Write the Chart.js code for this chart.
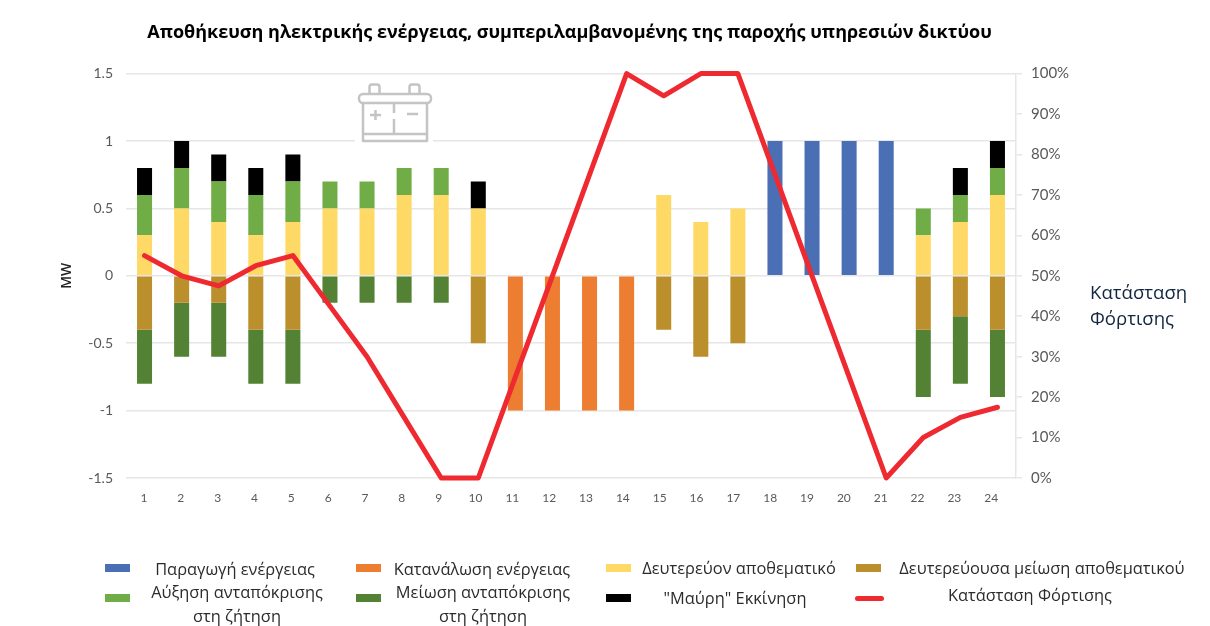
<!DOCTYPE html>
<html lang="el"><head><meta charset="utf-8">
<style>
html,body{margin:0;padding:0;background:#fff;width:1210px;height:626px;overflow:hidden}
#wrap{position:relative;width:1210px;height:626px}
canvas{position:absolute;left:0;top:0}
.lg{position:absolute;font:16.4px "Open Sans",sans-serif;color:#2b2b2b;white-space:nowrap;transform:translate(-50%,-50%);text-align:center;line-height:23.5px}
.sw{position:absolute;width:25px;height:8px}
.side{position:absolute;left:1090px;top:279px;font:18.6px "Open Sans",sans-serif;color:#12263f;line-height:26px}
</style></head><body>
<div id="wrap"><canvas id="c" width="1210" height="626"></canvas>
<div class="side">Κατάσταση<br>Φόρτισης</div><div id="legend"></div></div>
<script src="https://cdn.jsdelivr.net/npm/chart.js@4"></script>
<script>
const hours=['1','2','3','4','5','6','7','8','9','10','11','12','13','14','15','16','17','18','19','20','21','22','23','24'];
const generation=[null,null,null,null,null,null,null,null,null,null,null,null,null,null,null,null,null,1,1,1,1,null,null,null];
const consumption=[null,null,null,null,null,null,null,null,null,null,-1,-1,-1,-1,null,null,null,null,null,null,null,null,null,null];
const secondaryReserve=[.3,.5,.4,.3,.4,.5,.5,.6,.6,.5,null,null,null,null,.6,.4,.5,null,null,null,null,.3,.4,.6];
const secondaryReduction=[-.4,-.2,-.2,-.4,-.4,null,null,null,null,-.5,null,null,null,null,-.4,-.6,-.5,null,null,null,null,-.4,-.3,-.4];
const demandUp=[.3,.3,.3,.3,.3,.2,.2,.2,.2,null,null,null,null,null,null,null,null,null,null,null,null,.2,.2,.2];
const demandDown=[-.4,-.4,-.4,-.4,-.4,-.2,-.2,-.2,-.2,null,null,null,null,null,null,null,null,null,null,null,null,-.5,-.5,-.5];
const blackStart=[.2,.2,.2,.2,.2,null,null,null,null,.2,null,null,null,null,null,null,null,null,null,null,null,null,.2,.2];
const stateOfCharge=[55,50,47.5,52.5,55,42.5,30,15,0,0,25,50,75,100,94.5,100,100,75,50,25,0,10,15,17.5];
const titleText='Αποθήκευση ηλεκτρικής ενέργειας, συμπεριλαμβανομένης της παροχής υπηρεσιών δικτύου';

const bar=(label,data,color)=>({type:'bar',label,data,backgroundColor:color,stack:'s',yAxisID:'y',xAxisID:'x',order:2,barPercentage:.405,categoryPercentage:1});
const datasets=[
 bar('Παραγωγή ενέργειας',generation,'#4a6fb5'),
 bar('Κατανάλωση ενέργειας',consumption,'#ed7d31'),
 bar('Δευτερεύον αποθεματικό',secondaryReserve,'#ffd966'),
 bar('Δευτερεύουσα μείωση αποθεματικού',secondaryReduction,'#bb8f2b'),
 bar('Αύξηση ανταπόκρισης\nστη ζήτηση',demandUp,'#70ad47'),
 bar('Μείωση ανταπόκρισης\nστη ζήτηση',demandDown,'#548235'),
 bar('"Μαύρη" Εκκίνηση',blackStart,'#000000'),
 {type:'line',label:'Κατάσταση Φόρτισης',data:stateOfCharge,borderColor:'#ee2a30',borderWidth:5,pointRadius:0,tension:0,clip:false,yAxisID:'y1',xAxisID:'x',order:1,borderJoinStyle:'round',borderCapStyle:'round'}
];

const arrange={id:'arrange',afterLayout(ch){
 const t=ch.titleBlock;t.left=147;t.right=992;
 const s=ch.scales.xLabels;s.left=125.6;s.right=1009.6;s.width=884;s.configure();}};

const battery={id:'battery',afterDraw(ch){const g=ch.ctx;g.save();
 g.fillStyle='#fff';g.fillRect(355,130,78,20);
 g.strokeStyle='#c4c4c4';g.lineWidth=2.5;g.lineJoin='round';
 g.beginPath();g.roundRect(359,94,72,9,4);g.stroke();
 g.beginPath();g.moveTo(363,103);g.lineTo(363,141);g.lineTo(427,141);g.lineTo(427,103);g.stroke();
 g.beginPath();g.moveTo(363,134);g.lineTo(427,134);g.stroke();
 g.beginPath();g.moveTo(369.5,93);g.lineTo(369.5,87);g.arcTo(369.5,84.5,372,84.5,2.5);g.lineTo(377,84.5);g.arcTo(379.5,84.5,379.5,87,2.5);g.lineTo(379.5,93);g.stroke();
 g.beginPath();g.moveTo(409.5,93);g.lineTo(409.5,87);g.arcTo(409.5,84.5,412,84.5,2.5);g.lineTo(417,84.5);g.arcTo(419.5,84.5,419.5,87,2.5);g.lineTo(419.5,93);g.stroke();
 g.beginPath();g.moveTo(394,104);g.lineTo(394,113);g.moveTo(394,119);g.lineTo(394,133);
 g.moveTo(370,115);g.lineTo(381,115);g.moveTo(375.5,110);g.lineTo(375.5,120);
 g.moveTo(407,114);g.lineTo(418,114);g.stroke();
 g.restore();}};

new Chart(document.getElementById('c'),{
 data:{labels:hours,datasets},
 plugins:[arrange,battery],
 options:{responsive:false,animation:false,
  layout:{padding:{left:59,right:0,top:0,bottom:0}},
  plugins:{legend:{display:false},tooltip:{enabled:false},
   title:{display:true,text:titleText,color:'#000',font:{family:'"Open Sans"',size:18,weight:'bold'},padding:{top:22,bottom:30}}},
  scales:{
   x:{display:false,stacked:true},
   xLabels:{type:'category',axis:'x',position:'bottom',offset:true,labels:hours,grid:{display:false},border:{display:false},
      ticks:{color:'#595959',font:{family:'Lato',size:12},maxRotation:0,autoSkip:false,padding:5},
      afterFit(s){s.height=148;}},
   y:{stacked:true,position:'left',min:-1.5,max:1.5,
      grid:{color:'#e6e6e6',lineWidth:1.5,tickLength:0},border:{display:false},
      ticks:{stepSize:.5,color:'#595959',padding:13,font:{family:'Lato',size:14},callback:v=>String(v)},
      title:{display:true,text:'MW',color:'#222',font:{family:'"Open Sans"',size:14,weight:'600'},padding:0},
      afterFit(s){s.width=67;}},
   y1:{position:'right',min:0,max:100,
      grid:{drawOnChartArea:false,color:'#e6e6e6',lineWidth:1.5,tickLength:6},border:{color:'#e6e6e6',width:1.5},
      ticks:{stepSize:10,color:'#595959',padding:9,font:{family:'Lato',size:15},callback:v=>v+'%'},
      afterFit(s){s.width=194;}}
  }}
});
(function(){
 const host=document.getElementById('legend');
 const order=[[0,105,568,235,569],[1,356,568,482,569],[2,606,568,739,568],[3,856,568,1042,568],
  [4,105,598,237,603],[5,356,598,483,603],[6,606,598,735,598],[7,855,598,1030,595]];
 order.forEach(([i,sx,sy,tx,ty])=>{
  const d=datasets[i];const sw=document.createElement('div');sw.className='sw';
  sw.style.left=sx+'px';sw.style.top=(sy-4)+'px';
  if(d.type==='line'){sw.style.background=d.borderColor;sw.style.height='5px';sw.style.top=(sy-2)+'px';sw.style.borderRadius='3px';sw.style.width='29px';}
  else sw.style.background=d.backgroundColor;
  host.appendChild(sw);
  const t=document.createElement('div');t.className='lg';t.style.left=tx+'px';t.style.top=ty+'px';
  d.label.split('\n').forEach((l,k)=>{if(k)t.appendChild(document.createElement('br'));t.appendChild(document.createTextNode(l));});
  host.appendChild(t);
 });
})();
</script></body></html>
